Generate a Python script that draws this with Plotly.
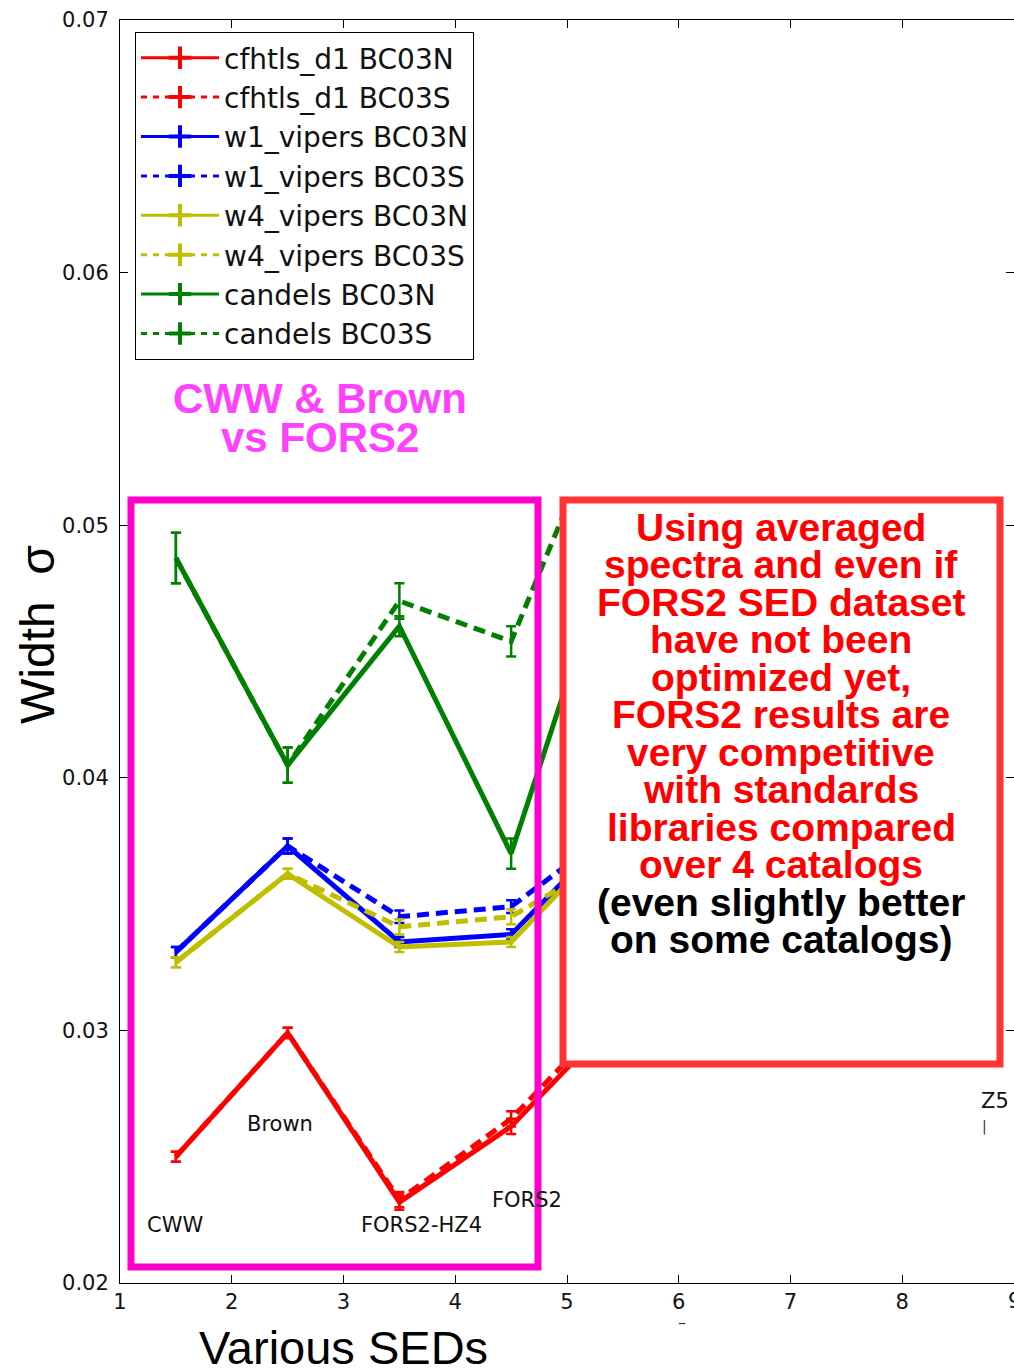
import plotly.graph_objects as go

# ---------------- data ----------------
sed_x = [1.5, 2.5, 3.5, 4.5, 5.5]

cfhtls_N = [0.0250, 0.0299, 0.0232, 0.0262, 0.0308]
cfhtls_N_err = [0.0002, 0.0002, 0.0003, 0.0003, 0.0003]
cfhtls_S = [0.0250, 0.0299, 0.0233, 0.0265, 0.0311]
cfhtls_S_err = [0.0002, 0.0002, 0.0003, 0.0003, 0.0003]

w1_N = [0.0331, 0.0373, 0.0335, 0.0338, 0.0383]
w1_N_err = [0.0002, 0.0003, 0.0002, 0.0002, 0.0003]
w1_S = [0.0331, 0.0373, 0.0345, 0.0349, 0.0382]
w1_S_err = [0.0002, 0.0003, 0.00025, 0.00025, 0.0003]

w4_N = [0.0327, 0.0362, 0.0333, 0.0335, 0.0381]
w4_N_err = [0.0002, 0.0002, 0.0002, 0.0002, 0.0002]
w4_S = [0.0327, 0.0362, 0.0341, 0.0345, 0.0371]
w4_S_err = [0.0002, 0.0002, 0.0003, 0.0003, 0.0003]

candels_N = [0.0487, 0.0405, 0.0460, 0.0370, 0.0505]
candels_N_err = [0.0010, 0.0007, 0.0004, 0.0006, 0.0006]
candels_S = [0.0487, 0.0405, 0.0470, 0.0454, 0.0561]
candels_S_err = [0.0010, 0.0007, 0.0007, 0.0006, 0.0007]

series_names = ["cfhtls_d1 BC03N", "cfhtls_d1 BC03S", "w1_vipers BC03N", "w1_vipers BC03S",
                "w4_vipers BC03N", "w4_vipers BC03S", "candels BC03N", "candels BC03S"]
series_vals = [cfhtls_N, cfhtls_S, w1_N, w1_S, w4_N, w4_S, candels_N, candels_S]
series_errs = [cfhtls_N_err, cfhtls_S_err, w1_N_err, w1_S_err, w4_N_err, w4_S_err,
               candels_N_err, candels_S_err]
series_colors = ["#FF0000", "#FF0000", "#0000FF", "#0000FF", "#BFBF00", "#BFBF00", "#008000", "#008000"]
series_dashed = [False, True, False, True, False, True, False, True]

sed_labels = ["CWW", "Brown", "FORS2-HZ4", "FORS2", "Z5"]
sed_label_x = [1.49, 2.43, 3.70, 4.64, 8.83]
sed_label_y = [0.0223, 0.0263, 0.0223, 0.0233, 0.0272]

box_lines = ["Using averaged", "spectra and even if", "FORS2 SED dataset", "have not been",
             "optimized yet,", "FORS2 results are", "very competitive", "with standards",
             "libraries compared", "over 4 catalogs", "(even slightly better", "on some catalogs)"]
box_line_colors = ["#FF0000"] * 10 + ["#000000"] * 2

x_ticks = [1, 2, 3, 4, 5, 6, 7, 8, 9]
y_ticks = [0.02, 0.03, 0.04, 0.05, 0.06, 0.07]

# ---------------- figure ----------------
W, H = 1014, 1371
ML, MR, MT, MB = 120, 0, 20, 88
PW, PH = W - ML - MR, H - MT - MB


def px_x(p):
    return (p - ML) / PW


def px_y(p):
    return 1 - (p - MT) / PH


fig = go.Figure()

for name, vals, errs, col, dashed in zip(series_names, series_vals, series_errs,
                                          series_colors, series_dashed):
    fig.add_trace(go.Scatter(
        x=sed_x, y=vals, mode="lines", showlegend=False, name=name,
        line=dict(color=col, width=5, dash="12px,7px" if dashed else "solid"),
        error_y=dict(type="data", array=errs, visible=True, color=col, thickness=2.5, width=5),
    ))

# legend entries
for name, col, dashed in zip(series_names, series_colors, series_dashed):
    fig.add_trace(go.Scatter(
        x=[None], y=[None], mode="lines+markers", name=name, legendgroup=name,
        line=dict(color=col, width=3, dash="6px,6px" if dashed else "solid"),
        marker=dict(symbol="cross-thin", size=16, color=col, line=dict(width=4, color=col)),
    ))


def ann(x, y, text, size, color, family, xref="paper", yref="paper", **kw):
    d = dict(x=x, y=y, xref=xref, yref=yref, text=text, showarrow=False,
             xanchor="center", yanchor="middle",
             font=dict(family=family, size=size, color=color))
    d.update(kw)
    return d


annotations = []
for t, x, y in zip(sed_labels, sed_label_x, sed_label_y):
    annotations.append(ann(x, y, t, 21, "#111111", "DejaVu Sans", xref="x", yref="y"))
annotations.append(ann(8.74, 0.0262, "|", 14, "#333333", "DejaVu Sans", xref="x", yref="y"))
annotations.append(ann(px_x(682), px_y(1322), "–", 16, "#333333", "DejaVu Sans"))
# last x tick label, cut by the right edge
annotations.append(ann(9, px_y(1301), "9", 21, "#111111", "DejaVu Sans", xref="x"))

# title overlay
annotations.append(ann(px_x(320), px_y(398), "<b>CWW & Brown</b>", 42, "#FF40FF", "Liberation Sans"))
annotations.append(ann(px_x(320), px_y(438), "<b>vs FORS2</b>", 42, "#FF40FF", "Liberation Sans"))

# text box lines
for i, (t, c) in enumerate(zip(box_lines, box_line_colors)):
    yc = 527 + i * 37.5
    annotations.append(ann(px_x(781), px_y(yc), "<b>" + t + "</b>", 39, c, "Liberation Sans"))

# axis titles
annotations.append(ann(px_x(343), px_y(1347), "Various SEDs", 47, "black", "Liberation Sans"))
annotations.append(ann(px_x(37), px_y(635), "Width\u00a0\u00a0σ", 48, "black", "Liberation Sans",
                       textangle=-90))

shapes = [
    # white cover above the text box
    dict(type="rect", xref="paper", yref="paper", x0=px_x(562), x1=px_x(650), y0=px_y(497), y1=px_y(320),
         fillcolor="white", line=dict(width=0), layer="above"),
    # magenta frame
    dict(type="rect", xref="paper", yref="paper", x0=px_x(131), x1=px_x(538), y0=px_y(500), y1=px_y(1267),
         line=dict(color="#FF00CC", width=7), fillcolor="rgba(0,0,0,0)", layer="above"),
    # red text box
    dict(type="rect", xref="paper", yref="paper", x0=px_x(563), x1=px_x(1000), y0=px_y(500), y1=px_y(1064),
         line=dict(color="#FF3333", width=7), fillcolor="white", layer="above"),
]

fig.update_layout(
    width=W, height=H, margin=dict(l=ML, r=MR, t=MT, b=MB),
    paper_bgcolor="white", plot_bgcolor="white",
    showlegend=True,
    legend=dict(x=px_x(135), y=px_y(32), xanchor="left", yanchor="top",
                bgcolor="white", bordercolor="black", borderwidth=1,
                font=dict(family="DejaVu Sans", size=28, color="#111111"),
                itemwidth=78, tracegroupgap=8, traceorder="normal"),
    annotations=annotations, shapes=shapes,
    xaxis=dict(range=[1, 9], tickvals=x_ticks, ticks="inside", ticklen=8, tickcolor="black",
               showline=True, linecolor="black", linewidth=1, mirror="ticks", showgrid=False,
               zeroline=False, tickfont=dict(family="DejaVu Sans", size=21, color="#111111")),
    yaxis=dict(range=[0.02, 0.07], tickvals=y_ticks, tickformat=".2f", ticks="inside", ticklen=8,
               tickcolor="black", showline=True, linecolor="black", linewidth=1, mirror="ticks",
               showgrid=False, zeroline=False, ticklabelstandoff=6,
               tickfont=dict(family="DejaVu Sans", size=21, color="#111111")),
)

fig.write_html("out.html")
